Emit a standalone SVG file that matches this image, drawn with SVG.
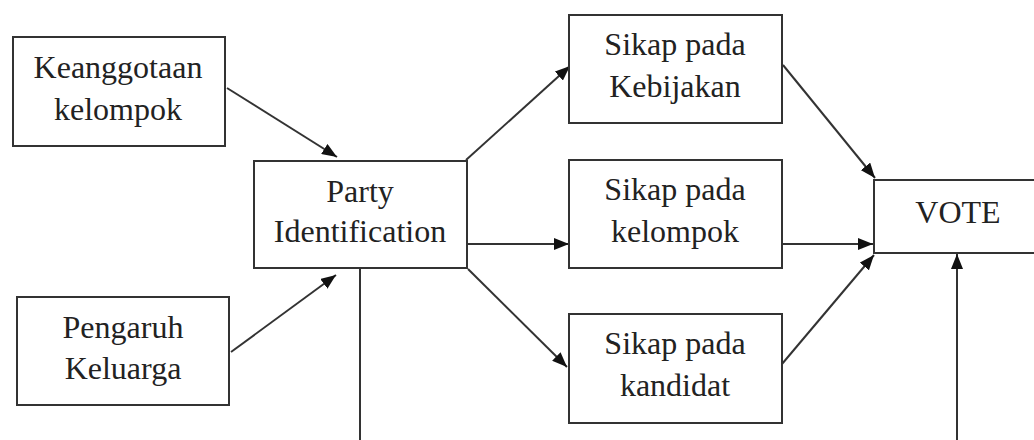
<svg xmlns="http://www.w3.org/2000/svg" width="1034" height="440" viewBox="0 0 1034 440">
<style>
.box{fill:#fff;stroke:#333;stroke-width:2}
.t{font-family:"Liberation Serif","Times New Roman",serif;font-size:32px;fill:#222;text-anchor:middle}
.c{stroke:#333;stroke-width:2;fill:none}
.a{marker-end:url(#ah)}
</style>
<defs>
<marker id="ah" markerUnits="userSpaceOnUse" markerWidth="16" markerHeight="12" refX="15" refY="6" orient="auto">
<path d="M0,0 L15,6 L0,12 z" fill="#111"/>
</marker>
</defs>
<rect width="1034" height="440" fill="#fff"/>
<g id="connectors">
<line class="c a" x1="227" y1="88" x2="337" y2="157"/>
<line class="c a" x1="231" y1="352" x2="336" y2="275"/>
<line class="c" x1="360" y1="268" x2="360" y2="442"/>
<line class="c a" x1="466" y1="160" x2="570" y2="66"/>
<line class="c a" x1="467" y1="244" x2="569" y2="244"/>
<line class="c a" x1="468" y1="269" x2="567" y2="367"/>
<line class="c a" x1="783" y1="65" x2="875" y2="178"/>
<line class="c a" x1="782" y1="244" x2="873" y2="244"/>
<line class="c a" x1="782" y1="364" x2="874" y2="255"/>
<line class="c a" x1="957" y1="442" x2="957" y2="254"/>
</g>
<g id="keanggotaan">
<rect class="box" x="13" y="37" width="212" height="109"/>
<text class="t" x="118" y="78">Keanggotaan</text>
<text class="t" x="118" y="120">kelompok</text>
</g>
<g id="pengaruh">
<rect class="box" x="17" y="297" width="212" height="108"/>
<text class="t" x="123" y="338">Pengaruh</text>
<text class="t" x="123" y="379">Keluarga</text>
</g>
<g id="party">
<rect class="box" x="254" y="161" width="213" height="107"/>
<text class="t" x="360" y="202">Party</text>
<text class="t" x="360" y="242">Identification</text>
</g>
<g id="kebijakan">
<rect class="box" x="569" y="15" width="213" height="108"/>
<text class="t" x="675" y="55">Sikap pada</text>
<text class="t" x="675" y="97">Kebijakan</text>
</g>
<g id="kelompok">
<rect class="box" x="569" y="160" width="213" height="108"/>
<text class="t" x="675" y="200">Sikap pada</text>
<text class="t" x="675" y="242">kelompok</text>
</g>
<g id="kandidat">
<rect class="box" x="569" y="314" width="213" height="109"/>
<text class="t" x="675" y="354">Sikap pada</text>
<text class="t" x="675" y="396">kandidat</text>
</g>
<g id="vote">
<rect class="box" x="874" y="180" width="170" height="73"/>
<text class="t" x="958" y="223">VOTE</text>
</g>
</svg>
